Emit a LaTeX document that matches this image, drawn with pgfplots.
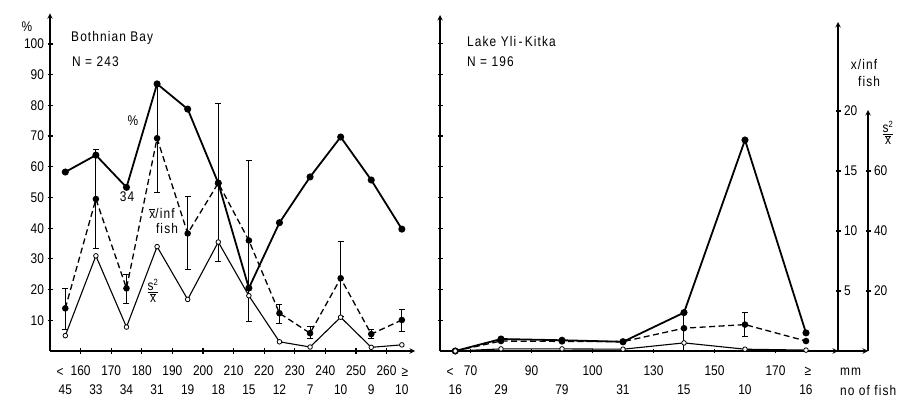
\documentclass[border=0pt]{standalone}
\usepackage{fontspec}
\setmainfont{Liberation Sans}[FakeStretch=0.85]
\newfontfamily\lab{Liberation Sans}[FakeStretch=0.85, LetterSpace=8]
\usepackage{pgfplots}
\pgfplotsset{compat=1.18}
\usepackage{pgfplotstable}

% Bothnian Bay: x = class centre (mm)
\pgfplotstableread{
x   pct   inf   ep    em    s2
155 58.3  13.9  6.3   6.8   5.0
165 63.8  49.5  16.0  16.1  31.0
175 53.3  20.4  4.4   4.9   7.8
185 87.0  69.3  17.9  17.6  34.0
195 78.8  38.3  12.0  11.9  16.8
205 54.7  54.7  26.0  25.7  35.5
215 20.5  36.0  26.2  26.5  18.0
225 41.8  12.3  2.9   3.3   3.0
235 56.7  5.8   2.1   1.7   1.3
245 69.7  23.7  11.9  12.5  11.0
255 55.7  5.5   1.5   1.5   1.2
265 39.7  10.1  3.5   3.8   2.0
}\bothnian

% Lake Yli-Kitka: pct in %, inf in x/inf fish, s2 in s^2/xbar
\pgfplotstableread{
x   pct   inf   ep    em    s2
65  0.0   0.0   0     0     0.0
80  3.9   0.83  0     0     0.7
100 3.5   0.80  0     0     0.7
120 3.0   0.78  0     0     0.6
140 12.5  1.9   1.27  1.9   2.7
160 68.7  2.2   1.0   0.95  0.6
180 5.9   0.83  0     0     0.3
}\kitka

\newcommand{\fsz}{\fontsize{14}{16}\selectfont}
\newcommand{\sxfrac}{$\frac{\mbox{s}^{\mbox{\fontsize{9}{9}\selectfont 2}}}{\overline{\mbox{x}}}$}

\pgfplotsset{
  panel/.style={
    scale only axis, anchor=south west, clip=false,
    axis line style={-, line width=1.4pt},
    tick align=outside,
    major tick length=5pt,
    major tick style={line width=1.2pt, black},
    tick label style={font=\fsz},
    /pgf/number format/assume math mode=true,
  },
  pct/.style={black, line width=1.8pt, mark=*, mark size=2.6pt},
  inf/.style={black, line width=1.3pt, dash pattern=on 6pt off 3.5pt,
    mark=*, mark size=2.6pt, mark options={solid},
    error bars/.cd, y dir=both, y explicit,
    error bar style={line width=1pt, solid},
    error mark options={rotate=90, mark size=3pt, line width=1pt}},
  s2x/.style={black, line width=1.1pt, mark=*, mark size=2.3pt,
    mark options={fill=white, line width=0.8pt}},
}

\begin{document}
\begin{tikzpicture}
\useasboundingbox (0,0) rectangle (909pt,401pt);

% ---- Bothnian Bay
\begin{axis}[panel,
  at={(50pt,50pt)}, width=365pt, height=337.7pt,
  xmin=150, xmax=269.3, ymin=0, ymax=110,
  axis x line=bottom, axis y line=left,
  xtick={160,170,...,260},
  ytick={10,20,...,100},
  xticklabel style={yshift=-9pt},
  extra x ticks={155,165,...,265},
  extra x tick labels={45,33,34,31,19,18,15,12,7,10,9,10},
  extra x tick style={major tick length=0pt, xticklabel style={yshift=-21pt}},
]
\addplot[pct] table[x=x, y=pct] {\bothnian};
\addplot[inf] table[x=x, y=inf, y error plus=ep, y error minus=em] {\bothnian};
\addplot[s2x] table[x=x, y=s2] {\bothnian};
\end{axis}

% ---- Lake Yli-Kitka, % scale
\begin{axis}[panel,
  at={(440pt,50pt)}, width=398pt, height=336pt,
  xmin=60, xmax=190.5, ymin=0, ymax=109.4,
  axis x line=bottom, axis y line=left,
  xtick={70,90,110,130,150,170},
  xticklabels={70,90,100,130,150,170},
  ytick={10,20,...,100}, yticklabel={\mbox{}},
  xticklabel style={yshift=-9pt},
  extra x ticks={65,80,100,120,140,160,180},
  extra x tick labels={16,29,79,31,15,10,16},
  extra x tick style={major tick length=0pt, xticklabel style={yshift=-21pt}},
]
\addplot[pct] table[x=x, y=pct] {\kitka};
\end{axis}

% ---- x/inf fish scale
\begin{axis}[panel,
  at={(440pt,50pt)}, width=398pt, height=329pt,
  xmin=60, xmax=190.5, ymin=0, ymax=27.42,
  axis x line=none, axis y line=right,
  ytick={5,10,15,20},
]
\addplot[inf] table[x=x, y=inf, y error plus=ep, y error minus=em] {\kitka};
\end{axis}

% ---- s^2/xbar scale
\begin{axis}[panel,
  at={(440pt,50pt)}, width=428pt, height=241pt,
  xmin=60, xmax=200.33, ymin=0, ymax=80.33,
  axis x line=bottom, axis y line=right, xtick=\empty,
  ytick={20,40,60},
]
\addplot[s2x] table[x=x, y=s2] {\kitka};
\end{axis}

% ---- texts
\begin{scope}[every node/.style={font=\fsz\lab, inner sep=0pt}]
\node at (27pt,374pt) {\%};
\node[anchor=west] at (71pt,363pt) {Bothnian Bay};
\node[anchor=west] at (72pt,339pt) {N = 243};
\node[anchor=west] at (467pt,359pt) {Lake Yli\,-\,Kitka};
\node[anchor=west] at (467pt,339pt) {N = 196};
\node at (133pt,280pt) {\%};
\node at (127pt,204pt) {34};
\node at (162pt,188pt) {$\overline{\mbox{x}}$/inf};
\node at (167pt,173pt) {fish};
\node at (153pt,110pt) {\sxfrac};
\node at (60pt,29pt) {<};
\node at (405pt,29pt) {≥};
\node at (450pt,29pt) {<};
\node at (808pt,30pt) {≥};
\node at (864pt,336pt) {x/inf};
\node at (869pt,319pt) {fish};
\node at (888pt,268pt) {\sxfrac};
\node[anchor=west] at (840pt,29pt) {mm};
\node[anchor=west] at (840pt,11pt) {no of fish};
\end{scope}
\end{tikzpicture}
\end{document}
